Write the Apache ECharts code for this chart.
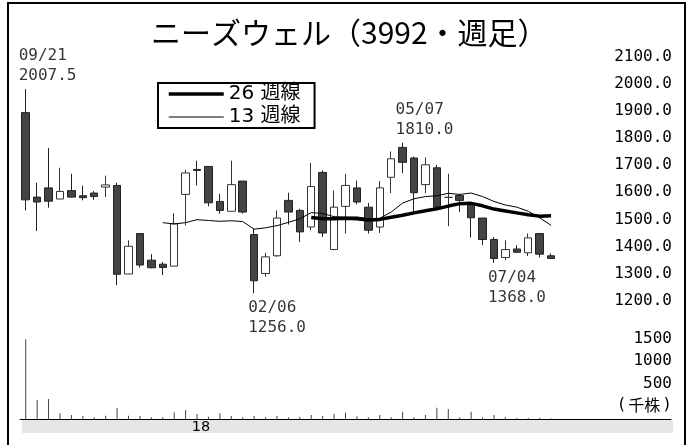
<!DOCTYPE html>
<html><head><meta charset="utf-8">
<script src="https://cdn.jsdelivr.net/npm/echarts@6/dist/echarts.min.js"></script>
<style>html,body{margin:0;padding:0;background:#fff}#c{width:698px;height:445px}</style>
</head><body><div id="c"></div>
<script>
// ---- data ----
const weeks = ['2017/09/18','2017/09/25','2017/10/02','2017/10/09','2017/10/16','2017/10/23','2017/10/30','2017/11/06','2017/11/13','2017/11/20','2017/11/27','2017/12/04','2017/12/11','2017/12/18','2017/12/25','2018/01/01','2018/01/08','2018/01/15','2018/01/22','2018/01/29','2018/02/05','2018/02/12','2018/02/19','2018/02/26','2018/03/05','2018/03/12','2018/03/19','2018/03/26','2018/04/02','2018/04/09','2018/04/16','2018/04/23','2018/04/30','2018/05/07','2018/05/14','2018/05/21','2018/05/28','2018/06/04','2018/06/11','2018/06/18','2018/06/25','2018/07/02','2018/07/09','2018/07/16','2018/07/23','2018/07/30','2018/08/06','2018/08/13','2018/08/20','2018/08/27','2018/09/03','2018/09/10','2018/09/17','2018/09/24','2018/10/01','2018/10/08','2018/10/15'];
const opens  = [1921,1610,1644,1603,1634,1615,1625,1647,1653,1327,1476,1378,1363,1356,1620,1712,1723,1594,1558,1669,1472,1329,1394,1598,1561,1500,1701,1417,1576,1644,1573,1500,1683,1793,1754,1656,1718,1609,1616,1583,1533,1454,1388,1419,1405,1476,1394];
const closes = [1600,1592,1595,1631,1610,1608,1612,1655,1326,1429,1360,1350,1351,1512,1699,1708,1589,1561,1656,1555,1302,1390,1533,1555,1482,1649,1478,1573,1653,1592,1488,1644,1751,1738,1626,1729,1573,1609,1598,1534,1454,1384,1417,1407,1460,1400,1384];
const highs  = [2007.5,1663,1791,1718,1696,1652,1632,1689,1663,1451,1476,1400,1371,1551,1710,1744,1723,1622,1744,1669,1494,1405,1561,1626,1567,1736,1708,1634,1696,1671,1588,1669,1778,1810,1759,1756,1729,1696,1622,1592,1533,1463,1451,1433,1476,1478,1403];
const lows   = [1561,1485,1571,1603,1608,1598,1600,1610,1286,1327,1351,1348,1323,1356,1506,1653,1576,1549,1558,1549,1256,1317,1390,1509,1445,1488,1463,1415,1476,1583,1476,1478,1625,1698,1555,1625,1564,1503,1555,1461,1433,1368,1378,1405,1393,1388,1384];
const ma13 = ['-','-','-','-','-','-','-','-','-','-','-','-',1516,1511,1516,1527,1524,1521,1523,1520,1492,1497,1505,1517,1530,1553,1550,1538,1536,1537,1531,1532,1555,1588,1604,1612,1615,1624,1620,1625,1612,1594,1581,1573,1558,1534,1506];
const ma26 = ['-','-','-','-','-','-','-','-','-','-','-','-','-','-','-','-','-','-','-','-','-','-','-','-','-',1535,1530,1530,1532,1530,1526,1528,1536,1543,1552,1560,1567,1577,1586,1587,1578,1566,1559,1552,1545,1540,1541];
const volumes = [1771,422,444,126,89,67,37,74,244,74,67,37,37,148,200,111,52,126,67,37,67,37,67,37,52,89,67,111,141,60,40,90,40,160,40,90,250,220,40,160,40,90,40,20,20,20,10];
const priceTicks = [1200,1300,1400,1500,1600,1700,1800,1900,2000,2100];
const volTicks = [500,1000,1500];
const annIdx = [0,20,33,41];
const annDate = ['09/21','02/06','05/07','07/04'];
const annValue = [2007.5,1256.0,1810.0,1368.0];
const annHigh = [true,false,true,false];

// ---- chart ----
const MONO = '"DejaVu Sans Mono", monospace';
const chart = echarts.init(document.getElementById('c'), null, {renderer:'canvas'});
const yearIdx = weeks.findIndex(w => w.slice(0,4) !== weeks[0].slice(0,4));
const noSym = {color: 'rgba(0,0,0,0)', borderWidth: 0, opacity: 0};

const option = {
  animation: false,
  backgroundColor: '#fff',
  title: {
    text: 'ニーズウェル（3992・週足）', left: 146, top: 13,
    textStyle: {fontFamily: '"Noto Sans CJK JP"', fontSize: 30, fontWeight: 'normal', color: '#000'}
  },
  legend: {
    show: true, left: 158, top: 83, orient: 'vertical',
    padding: [1, 14, 1, 9], itemGap: 3, itemWidth: 55, itemHeight: 14,
    borderColor: '#000', borderWidth: 2, backgroundColor: '#fff',
    textStyle: {fontFamily: '"DejaVu Sans","Noto Sans CJK JP"', fontSize: 20, color: '#000'},
    data: [
      {name: '26 週線', itemStyle: noSym, lineStyle: {width: 3.5, color: '#000', opacity: 1}},
      {name: '13 週線', itemStyle: noSym, lineStyle: {width: 1, color: '#000', opacity: 1}}
    ]
  },
  grid: [
    {left: 20, width: 651, top: 64, height: 244.5},
    {left: 20, width: 651, top: 338, height: 81}
  ],
  xAxis: [
    {type: 'category', gridIndex: 0, data: weeks, boundaryGap: true, show: false},
    {type: 'category', gridIndex: 1, data: weeks, boundaryGap: true,
     axisLine: {show: true, lineStyle: {color: '#000', width: 1}},
     axisTick: {show: false}, splitLine: {show: false},
     axisLabel: {
       interval: (i) => i === yearIdx,
       formatter: (v) => '{a|' + v.slice(2,4) + '}',
       margin: 1, color: '#000',
       rich: {a: {fontFamily: '"DejaVu Sans"', fontSize: 14.5, color: '#000', padding: [0,0,0,8]}}
     }}
  ],
  yAxis: [
    {type: 'value', gridIndex: 0, position: 'right', min: priceTicks[0], max: priceTicks[priceTicks.length-1], interval: 100,
     axisLine: {show: false}, axisTick: {show: false}, splitLine: {show: false},
     axisLabel: {formatter: (v) => priceTicks.includes(v) ? v.toFixed(1) : '', align: 'right', margin: 1,
       verticalAlign: 'bottom', lineHeight: 15, fontFamily: MONO, fontSize: 16, color: '#000'}},
    {type: 'value', gridIndex: 1, position: 'right', min: 0, max: 1800, interval: 500,
     axisLine: {show: false}, axisTick: {show: false}, splitLine: {show: false},
     axisLabel: {formatter: (v) => v === 0 ? '{p|(}{j|千株}{p|)}' : (volTicks.includes(v) ? String(v) : ''),
       align: 'right', margin: 1, verticalAlign: 'bottom', lineHeight: 14, padding: [0,0,6,0],
       fontFamily: MONO, fontSize: 16, color: '#000',
       rich: {
         p: {fontFamily: MONO, fontSize: 16, color: '#000', lineHeight: 14, padding: [0,0,3,0]},
         j: {fontFamily: '"Noto Sans CJK JP"', fontSize: 16, color: '#000', lineHeight: 14, padding: [0,2,3,2]}
       }}}
  ],
  graphic: [
    {type: 'rect', z: -10, silent: true, shape: {x: 22, y: 420, width: 651, height: 13}, style: {fill: '#e6e6e6'}},
    {type: 'rect', z: 100, silent: true, shape: {x: 8, y: 3, width: 677, height: 460}, style: {fill: null, stroke: '#000', lineWidth: 2}}
  ],
  series: [
    {type: 'candlestick', xAxisIndex: 0, yAxisIndex: 0, barWidth: 8,
     data: opens.map((o, i) => [o, closes[i], lows[i], highs[i]]),
     itemStyle: {color: '#ffffff', color0: '#444444', borderColor: '#333333', borderColor0: '#222222', borderWidth: 1}},
    {name: '26 週線', type: 'line', xAxisIndex: 0, yAxisIndex: 0, data: ma26, symbol: 'none', z: 4,
     itemStyle: {color: '#000'}, lineStyle: {color: '#000', width: 3.5}},
    {name: '13 週線', type: 'line', xAxisIndex: 0, yAxisIndex: 0, data: ma13, symbol: 'none', z: 4,
     itemStyle: {color: '#000'}, lineStyle: {color: '#000', width: 1}},
    {type: 'bar', xAxisIndex: 1, yAxisIndex: 1, data: volumes, barWidth: 1, itemStyle: {color: '#444'}},
    {type: 'scatter', xAxisIndex: 0, yAxisIndex: 0, symbolSize: 0, z: 5,
     data: annIdx.map((x, i) => ({
       value: [x, annValue[i]],
       label: {show: true, position: annHigh[i] ? [-7, -3] : [-6, 5], align: 'left',
         verticalAlign: annHigh[i] ? 'bottom' : 'top',
         formatter: annDate[i] + '\n' + annValue[i].toFixed(1),
         fontFamily: MONO, fontSize: 16, lineHeight: 20, color: '#000'}
     }))}
  ]
};
chart.setOption(option);
</script>
</body></html>
